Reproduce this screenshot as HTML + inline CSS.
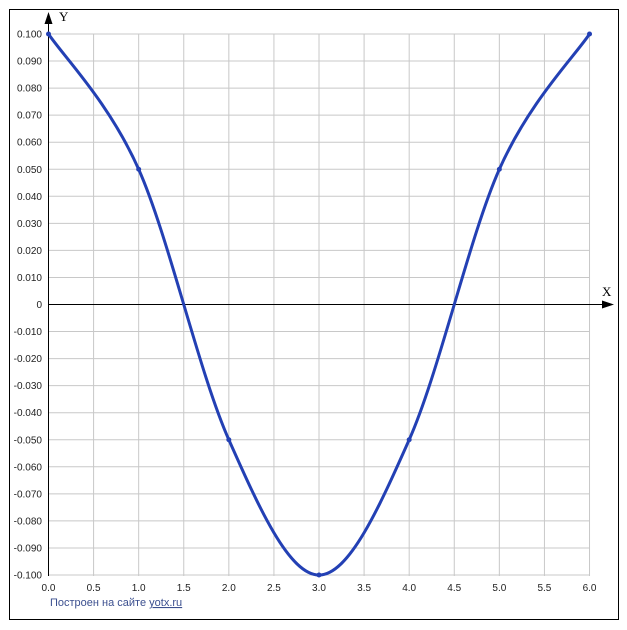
<!DOCTYPE html>
<html><head><meta charset="utf-8"><style>
html,body{margin:0;padding:0;background:#fff;}
svg{display:block;font-family:"Liberation Sans",sans-serif;}
</style></head><body>
<svg id="s" width="627" height="630" xmlns="http://www.w3.org/2000/svg">
<rect x="9.5" y="9.5" width="609" height="610" fill="#fff" stroke="#000" stroke-width="1"/>
<g id="grid" stroke="#c8c8c8" stroke-width="1"></g>
<g id="lab" font-size="10" fill="#222"></g>
<line x1="48.5" y1="576" x2="48.5" y2="20" stroke="#000"/>
<polygon points="48.5,12 44.5,24 52.5,24" fill="#000"/>
<line x1="48" y1="304.5" x2="606" y2="304.5" stroke="#000"/>
<polygon points="614,304.5 602,300.5 602,308.5" fill="#000"/>
<text x="59" y="21" font-family="Liberation Serif,serif" font-size="13">Y</text>
<text x="602" y="296" font-family="Liberation Serif,serif" font-size="13">X</text>
<path id="curve" fill="none" stroke="#2340b4" stroke-width="3"/>
<g id="pts" fill="#2340b4"></g>
<text x="50" y="606" font-size="11" fill="#3b4f8f">Построен на сайте <tspan text-decoration="underline">yotx.ru</tspan></text>
</svg>
<script>
var X=function(x){return 48.5+90.17*x;},Y=function(y){return 304.5-2705*y;};
var g=document.getElementById('grid'),l=document.getElementById('lab'),ns='http://www.w3.org/2000/svg';
function el(p,t,a,txt){var e=document.createElementNS(ns,t);for(var k in a)e.setAttribute(k,a[k]);if(txt!=null)e.textContent=txt;p.appendChild(e);}
for(var i=0;i<=12;i++){var x=X(i*0.5);el(g,'line',{x1:x,y1:34,x2:x,y2:576});el(l,'text',{x:x,y:591,'text-anchor':'middle'},(i*0.5).toFixed(1));}
for(var j=-10;j<=10;j++){var y=Y(j/100);el(g,'line',{x1:48,y1:y,x2:589.5,y2:y});el(l,'text',{x:42,y:y+3.5,'text-anchor':'end'},j==0?'0':(j/100).toFixed(3));}
var P=[[0,.1],[1,.05],[2,-.05],[3,-.1],[4,-.05],[5,.05],[6,.1]].map(function(p){return[X(p[0]),Y(p[1])];});
var d='M'+P[0][0]+','+P[0][1];
for(var k=0;k<P.length-1;k++){var p0=P[k-1]||P[k],p1=P[k],p2=P[k+1],p3=P[k+2]||P[k+1];
d+=' C'+(p1[0]+(p2[0]-p0[0])/6)+','+(p1[1]+(p2[1]-p0[1])/6)+' '+(p2[0]-(p3[0]-p1[0])/6)+','+(p2[1]-(p3[1]-p1[1])/6)+' '+p2[0]+','+p2[1];}
document.getElementById('curve').setAttribute('d',d);
var pg=document.getElementById('pts');P.forEach(function(p){el(pg,'circle',{cx:p[0],cy:p[1],r:2.5});});
</script>
</body></html>
